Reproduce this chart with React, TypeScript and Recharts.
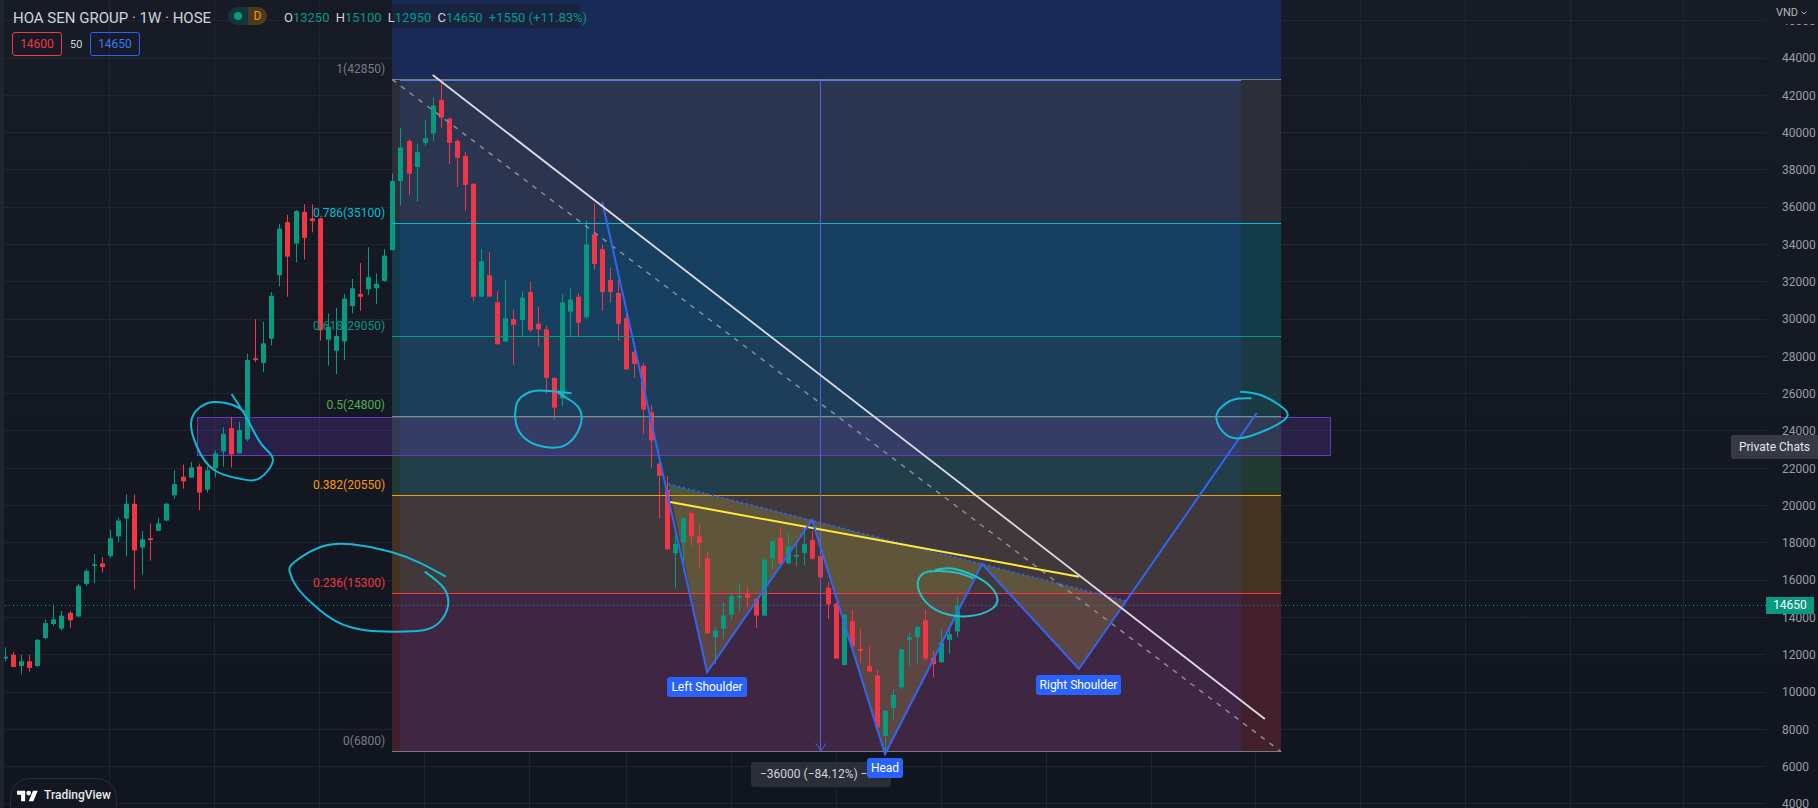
import { Area, Bar, CartesianGrid, ComposedChart, Line, ReferenceArea, ReferenceDot, ReferenceLine, XAxis, YAxis } from 'recharts';

const W = 1818;
const H = 808;
const FONT = 'Roboto, "Liberation Sans", sans-serif';

const GREEN = '#089981';
const RED = '#f23645';
const BLUE = '#2962ff';
const CYAN = '#14b8d4';

// weekly candles, oldest first
const opens = [
  11800, 12000, 11400, 11650, 11400, 12900, 13650, 13400, 14250, 14050,
  15800, 16800, 16900, 17300, 18350, 19300, 20100, 17750, 18250, 18650,
  19200, 20550, 21550, 21500, 22100, 20850, 22000, 22900, 24150, 22800,
  23550, 27900, 27650, 28950, 32350, 35200, 34050, 35750, 35400, 35400,
  28900, 28300, 28800, 30700, 31350, 31600, 31650, 32050, 33700, 37400,
  39550, 38150, 39450, 39950, 41750, 40750, 39550, 38750, 37250, 31200,
  32350, 30900, 28800, 30000, 29950, 31450, 29750, 29450, 26850, 25750,
  30400, 31200, 30100, 34550, 33750, 32100, 31400, 30050, 28250, 27500,
  25000, 22250, 20850, 17450, 18050, 19600, 18350, 17200, 12950, 13400,
  14150, 15050, 15300, 15000, 14100, 17150, 18250, 16900, 17300, 17450,
  18150, 17300, 15600, 14750, 11450, 13800, 12300, 11400, 10900, 7650,
  9150, 10250, 12800, 12950, 13850, 11850, 11600, 12800, 13250,
];
const closes = [
  11900, 11350, 11650, 11300, 12800, 13700, 13900, 14100, 13850, 15700,
  16500, 16850, 16700, 18250, 19200, 20100, 17600, 18200, 18150, 19050,
  20100, 21150, 21300, 22050, 20700, 21900, 22800, 23850, 22750, 24050,
  27800, 27800, 28700, 31250, 34850, 33350, 35800, 34350, 35250, 29400,
  29600, 29100, 31100, 31650, 31200, 32250, 31900, 33400, 37400, 39200,
  37800, 38950, 39700, 41450, 40800, 39450, 38650, 37200, 31200, 33100,
  31200, 28650, 30050, 29700, 31150, 29400, 29450, 26850, 25250, 30900,
  31050, 29800, 34000, 32950, 31450, 31450, 29750, 27300, 27600, 25150,
  23500, 21600, 17650, 17950, 19350, 18350, 18000, 13150, 13300, 14100,
  15150, 15150, 15050, 14100, 17100, 18100, 16900, 17800, 17350, 17950,
  17150, 16150, 14700, 11800, 14150, 12450, 12200, 11100, 8100, 9000,
  9850, 12300, 12950, 13500, 11800, 11500, 12650, 13100, 14650,
];
const highs = [
  12400, 12150, 12000, 12000, 12850, 13900, 14700, 14350, 14350, 15800,
  16600, 17400, 17250, 18700, 19350, 20600, 20600, 18650, 19050, 19350,
  20150, 21900, 22200, 22350, 22250, 22100, 22950, 24200, 24750, 24500,
  28150, 30000, 29850, 31450, 35100, 35600, 35850, 36150, 36150, 35450,
  30300, 30600, 31350, 32150, 33000, 33850, 32450, 33750, 37800, 40250,
  39650, 39400, 40700, 41900, 42850, 40800, 39650, 38950, 37300, 33750,
  33600, 31500, 32100, 30500, 31500, 32000, 30650, 29650, 26850, 31350,
  31650, 31400, 35300, 36200, 34000, 32750, 32100, 30600, 28700, 27650,
  25400, 22700, 21600, 18500, 19350, 19700, 19000, 17500, 13500, 14800,
  15300, 15800, 15650, 15050, 17250, 18100, 18850, 18500, 17950, 18900,
  18650, 17300, 15900, 14800, 14200, 14400, 13400, 12450, 11200, 9000,
  10150, 12300, 13200, 13500, 14400, 12200, 13400, 13600, 15100,
];
const lows = [
  11650, 11350, 10950, 11100, 11350, 12850, 13550, 13300, 13450, 14050,
  15700, 15850, 16400, 17200, 18050, 17300, 15500, 16300, 17050, 18650,
  19150, 20350, 20900, 21500, 19750, 20700, 21500, 22100, 22050, 22800,
  23450, 27700, 27150, 28600, 31750, 31200, 33050, 33200, 34650, 28850,
  27500, 27050, 27800, 30300, 30450, 31300, 30800, 32000, 33700, 36100,
  36650, 36300, 39300, 39550, 40250, 38300, 37100, 35800, 30950, 31200,
  31200, 28650, 28750, 27550, 29100, 29300, 28550, 26000, 24600, 25350,
  29100, 29000, 30000, 32650, 30450, 30900, 28850, 27300, 26850, 23850,
  22000, 19300, 17650, 15550, 16450, 17850, 16650, 13150, 11500, 12850,
  13900, 14350, 14500, 13450, 14100, 16600, 16850, 16850, 16750, 16800,
  17100, 15350, 13900, 11800, 11450, 12450, 11600, 11100, 8100, 6800,
  8450, 10150, 11400, 11500, 11700, 10800, 11600, 12050, 12950,
];

const candles = opens.map((o, i) => ({ i, o, c: closes[i], h: highs[i], l: lows[i] }));

const priceTicks = [4000, 6000, 8000, 10000, 12000, 14000, 16000, 18000, 20000, 22000, 24000, 26000, 28000, 30000, 32000, 34000, 36000, 38000, 40000, 42000, 44000, 46000];
const timeTicks = [13, 26, 39, 52, 65, 77, 90, 103, 116, 129, 142, 155, 168, 181, 194, 208];

const PRICE_MIN = 3785;
const PRICE_MAX = 47110;
const INDEX_MIN = -0.62;
const INDEX_MAX = 218.2;

// fib retracement levels
const fibLevels = [
  { name: '1', price: 42850, color: '#787b86' },
  { name: '0.786', price: 35100, color: '#00bcd4' },
  { name: '0.618', price: 29050, color: '#089981' },
  { name: '0.5', price: 24800, color: '#4caf50' },
  { name: '0.382', price: 20550, color: '#ff9800' },
  { name: '0.236', price: 15300, color: '#f23645' },
  { name: '0', price: 6800, color: '#787b86' },
];
const fibFills = ['#2c2f38', '#143b4a', '#1b3a44', '#213a32', '#443320', '#421f2a'];
const FIB_START = 47.96;
const FIB_END = 158.12;
const RANGE_START = 48.95;
const RANGE_END = 153.16;

// drawings, as (bar index, price) points
const zigzag = [
  { i: 74.0, p: 36295 }, { i: 87.0, p: 11061 }, { i: 100.0, p: 19228 }, { i: 109.05, p: 6680 },
  { i: 121.07, p: 16868 }, { i: 133.06, p: 11238 }, { i: 155.1, p: 24965 },
];
const patternShade = [
  { i: 82.2, low: 21157, high: 21157 }, { i: 87.0, low: 11061, high: 20627 },
  { i: 100.0, low: 19190, high: 19228 }, { i: 109.05, low: 6680, high: 18190 },
  { i: 121.07, low: 16860, high: 16868 }, { i: 133.06, low: 11238, high: 15530 },
  { i: 138.8, low: 14900, high: 14900 },
];
const patternTop = [{ i: 82.2, p: 21157 }, { i: 138.8, p: 14900 }];
const neckline = [{ i: 82.4, p: 20193 }, { i: 133.1, p: 16187 }];
const whiteTrend = [{ i: 53.0, p: 43088 }, { i: 156.1, p: 8557 }];
const fibTrend = [{ i: 47.96, p: 42850 }, { i: 158.12, p: 6800 }];
const rangeStem = [{ i: 101.1, p: 42850 }, { i: 101.1, p: 6800 }];
const rangeArrow = [{ i: 100.45, p: 7250 }, { i: 101.1, p: 6850 }, { i: 101.75, p: 7250 }];
const rangeTop = [{ i: 48.95, p: 42800 }, { i: 153.16, p: 42800 }];

const circleBreakout = [
  { i: 28.07, p: 25984 }, { i: 30.1, p: 24589 }, { i: 31.85, p: 23249 }, { i: 33.2, p: 22445 }, { i: 31.6, p: 21480 },
  { i: 29.25, p: 21426 }, { i: 25.9, p: 21909 }, { i: 23.8, p: 23142 }, { i: 23.05, p: 24429 }, { i: 24.04, p: 25233 },
  { i: 25.9, p: 25555 }, { i: 28.25, p: 25394 }, { i: 29.7, p: 25019 },
];
const circleRetest = [
  { i: 70.2, p: 26021 }, { i: 67.5, p: 26145 }, { i: 65.5, p: 26145 }, { i: 64.0, p: 25839 }, { i: 63.3, p: 25303 },
  { i: 63.3, p: 24429 }, { i: 64.2, p: 23694 }, { i: 65.9, p: 23249 }, { i: 67.9, p: 23104 }, { i: 69.8, p: 23340 },
  { i: 71.25, p: 24230 }, { i: 71.25, p: 25126 }, { i: 70.0, p: 25662 }, { i: 68.4, p: 26090 },
];
const circleFib = [
  { i: 54.62, p: 16187 }, { i: 51.55, p: 16906 }, { i: 47.76, p: 17528 }, { i: 43.0, p: 17924 }, { i: 39.2, p: 17796 },
  { i: 35.9, p: 16992 }, { i: 35.28, p: 16456 }, { i: 36.13, p: 15651 }, { i: 38.27, p: 14670 }, { i: 41.1, p: 13775 },
  { i: 44.4, p: 13330 }, { i: 48.2, p: 13239 }, { i: 52.0, p: 13330 }, { i: 53.9, p: 13775 }, { i: 54.87, p: 14579 },
  { i: 54.4, p: 15565 }, { i: 52.0, p: 16456 },
];
const circleLast = [
  { i: 115.24, p: 16547 }, { i: 117.1, p: 16638 }, { i: 119.37, p: 16370 }, { i: 121.65, p: 15834 }, { i: 122.96, p: 15030 },
  { i: 122.06, p: 14402 }, { i: 119.58, p: 14080 }, { i: 117.1, p: 14134 }, { i: 115.03, p: 14493 }, { i: 113.6, p: 15115 },
  { i: 113.1, p: 15834 }, { i: 113.8, p: 16370 }, { i: 115.45, p: 16494 }, { i: 117.93, p: 16402 }, { i: 119.99, p: 16102 },
];
const circleTarget = [
  { i: 153.04, p: 26107 }, { i: 155.6, p: 25930 }, { i: 157.87, p: 25394 }, { i: 158.86, p: 24767 }, { i: 156.26, p: 24053 },
  { i: 153.04, p: 23608 }, { i: 151.1, p: 23876 }, { i: 150.1, p: 24681 }, { i: 150.77, p: 25303 }, { i: 152.4, p: 25700 },
  { i: 154.45, p: 25753 },
];

const Candle = (props: any) => {
  const { x, y, width, height, payload } = props;
  const { o, c, h, l } = payload;
  const perUnit = height / (h - l || 1);
  const cx = Math.round(x + width / 2);
  const color = c >= o ? GREEN : RED;
  const bodyTop = y + (h - Math.max(o, c)) * perUnit;
  const bodyH = Math.max(Math.abs(o - c) * perUnit, 1.5);
  return (
    <g>
      <rect x={cx} y={y} width={1} height={height} fill={color} />
      <rect x={cx - 2} y={bodyTop} width={5} height={bodyH} fill={color} />
    </g>
  );
};

const drawn = (key: string, data: any[], stroke: string, width: number, extra: any = {}) => (
  <Line
    key={key}
    data={data}
    dataKey="p"
    stroke={stroke}
    strokeWidth={width}
    dot={false}
    activeDot={false}
    legendType="none"
    isAnimationActive={false}
    {...extra}
  />
);

const text = (left: number, top: number, s: string, color: string, size = 12, extra: any = {}) => (
  <div style={{ position: 'absolute', left, top, color, fontSize: size, lineHeight: `${size + 2}px`, whiteSpace: 'nowrap', ...extra }}>{s}</div>
);

const tag = (left: number, top: number, w: number, h: number, s: string) => (
  <div style={{ position: 'absolute', left, top, width: w, height: h, background: BLUE, color: '#fff', borderRadius: 3, fontSize: 12, lineHeight: `${h}px`, textAlign: 'center', whiteSpace: 'nowrap' }}>{s}</div>
);

export default function App() {
  return (
    <div style={{ position: 'absolute', left: 0, top: 0, width: W, height: H, overflow: 'hidden', background: 'linear-gradient(#171b26, #11151f)', fontFamily: FONT }}>
      <ComposedChart width={W} height={H} data={candles} margin={{ top: 0, right: 0, bottom: 0, left: 0 }}>
        <XAxis dataKey="i" type="number" domain={[INDEX_MIN, INDEX_MAX]} ticks={timeTicks} allowDataOverflow hide />
        <YAxis
          orientation="right"
          width={52}
          domain={[PRICE_MIN, PRICE_MAX]}
          ticks={priceTicks}
          interval={0}
          allowDataOverflow
          axisLine={false}
          tickLine={false}
          tickMargin={10}
          tick={{ fill: '#9a9da6', fontSize: 12, fontFamily: FONT }}
        />

        <ReferenceArea x1={FIB_START} x2={FIB_END} y1={42850} y2={PRICE_MAX} fill="#1a2a56" fillOpacity={1} stroke="none" />
        {fibFills.map((fill, k) => (
          <ReferenceArea key={fill} x1={FIB_START} x2={FIB_END} y1={fibLevels[k + 1].price} y2={fibLevels[k].price} fill={fill} fillOpacity={1} stroke="none" />
        ))}
        <ReferenceArea x1={RANGE_START} x2={RANGE_END} y1={6800} y2={42850} fill="#2962ff" fillOpacity={0.12} stroke="none" />

        <CartesianGrid stroke="#262a36" strokeOpacity={0.75} shapeRendering="crispEdges" horizontalValues={priceTicks} verticalValues={timeTicks} />

        <Area
          data={patternShade}
          dataKey={(d: any) => [d.low, d.high]}
          type="linear"
          fill="#ffeb3b"
          fillOpacity={0.16}
          stroke="none"
          dot={false}
          activeDot={false}
          isAnimationActive={false}
        />

        <ReferenceLine y={14650} stroke={GREEN} strokeDasharray="1 3" shapeRendering="crispEdges" />

        {fibLevels.map((lv) => (
          <ReferenceLine
            key={lv.name}
            segment={[{ x: FIB_START, y: lv.price }, { x: FIB_END, y: lv.price }]}
            stroke={lv.color}
            strokeWidth={1}
            shapeRendering="crispEdges"
          />
        ))}
        {fibLevels.map((lv) => (
          <ReferenceDot
            key={`label-${lv.name}`}
            x={FIB_START}
            y={lv.price}
            r={0}
            stroke="none"
            label={{ value: `${lv.name}(${lv.price})`, position: 'left', dx: -2, dy: -11, fill: lv.color, fontSize: 12, fontFamily: FONT }}
          />
        ))}

        <Bar dataKey={(d: any) => [d.l, d.h]} barSize={6} shape={Candle} isAnimationActive={false} legendType="none" />

        <ReferenceArea x1={23.9} x2={164.2} y1={22660} y2={24700} fill="#673ab7" fillOpacity={0.26} stroke="#673ab7" strokeWidth={1} shapeRendering="crispEdges" />

        {drawn('range-top', rangeTop, '#5b78e6', 1, { shapeRendering: 'crispEdges' })}
        {drawn('range-stem', rangeStem, '#5264d8', 1, { shapeRendering: 'crispEdges' })}
        {drawn('range-arrow', rangeArrow, '#5264d8', 1)}
        {drawn('fib-trend', fibTrend, '#8a8d98', 1.5, { strokeDasharray: '5 6' })}
        {drawn('pattern-top', patternTop, BLUE, 2, { strokeDasharray: '2 3' })}
        {drawn('neckline', neckline, '#ffeb3b', 2)}
        {drawn('zigzag', zigzag, '#3366f0', 2)}
        {drawn('white-trend', whiteTrend, '#dedde6', 1.8)}
        {drawn('circle-breakout', circleBreakout, CYAN, 2, { type: 'natural' })}
        {drawn('circle-retest', circleRetest, CYAN, 2, { type: 'natural' })}
        {drawn('circle-fib', circleFib, CYAN, 2, { type: 'natural' })}
        {drawn('circle-last', circleLast, '#22c1c3', 2, { type: 'natural' })}
        {drawn('circle-target', circleTarget, CYAN, 2, { type: 'natural' })}
      </ComposedChart>

      {/* left edge of the pane */}
      <div style={{ position: 'absolute', left: 0, top: 0, width: 4, height: H, background: '#20242e' }} />

      {/* header */}
      {text(13, 10, 'HOA SEN GROUP · 1W · HOSE', '#d1d4dc', 15)}
      <div style={{ position: 'absolute', left: 228, top: 7, width: 39, height: 18, borderRadius: 9, overflow: 'hidden', display: 'flex' }}>
        <div style={{ width: 20, background: '#12353a', position: 'relative' }}>
          <div style={{ position: 'absolute', left: 6, top: 5, width: 8, height: 8, borderRadius: 4, background: GREEN }} />
        </div>
        <div style={{ width: 19, background: '#4a3a1f', color: '#ff9800', fontSize: 12, lineHeight: '18px', textAlign: 'center' }}>D</div>
      </div>
      <div style={{ position: 'absolute', left: 280, top: 4, width: 300, height: 24, background: 'rgba(22,26,40,0.45)', borderRadius: 2 }} />
      <div style={{ position: 'absolute', left: 284, top: 10, fontSize: 13, lineHeight: '15px', whiteSpace: 'nowrap', color: GREEN }}>
        <span style={{ color: '#d1d4dc' }}>O</span>13250 <span style={{ color: '#d1d4dc', marginLeft: 3 }}>H</span>15100 <span style={{ color: '#d1d4dc', marginLeft: 3 }}>L</span>12950 <span style={{ color: '#d1d4dc', marginLeft: 3 }}>C</span>14650 <span style={{ marginLeft: 3 }}>+1550 (+11.83%)</span>
      </div>

      {/* quick trade box */}
      <div style={{ position: 'absolute', left: 12, top: 32, width: 48, height: 22, border: `1px solid ${RED}`, borderRadius: 3, color: RED, fontSize: 12, lineHeight: '22px', textAlign: 'center' }}>14600</div>
      {text(70, 38, '50', '#d1d4dc', 11)}
      <div style={{ position: 'absolute', left: 90, top: 32, width: 48, height: 22, border: `1px solid ${BLUE}`, borderRadius: 3, color: '#3b78ff', fontSize: 12, lineHeight: '22px', textAlign: 'center' }}>14650</div>

      {/* price scale extras */}
      <div style={{ position: 'absolute', left: 1770, top: 0, width: 48, height: 24, background: '#171b26' }} />
      {text(1776, 6, 'VND', '#b2b5be', 11)}
      <svg style={{ position: 'absolute', left: 1801, top: 11 }} width={6} height={4}><path d="M0.5 0.5 L3 3 L5.5 0.5" fill="none" stroke="#b2b5be" /></svg>
      <div style={{ position: 'absolute', left: 1766, top: 597, width: 48, height: 17, background: GREEN, color: '#fff', fontSize: 12, lineHeight: '17px', textAlign: 'center' }}>14650</div>
      <div style={{ position: 'absolute', left: 1731, top: 435, width: 87, height: 24, background: '#363a45', color: '#e6e7ea', fontSize: 12, lineHeight: '24px', textAlign: 'center', borderRadius: '2px 0 0 2px' }}>Private Chats</div>

      {/* measure tooltip and pattern labels */}
      <div style={{ position: 'absolute', left: 751, top: 762, width: 140, height: 25, background: '#2a2e39', color: '#d1d4dc', borderRadius: 3, fontSize: 12, lineHeight: '25px', paddingLeft: 9, boxSizing: 'border-box', whiteSpace: 'nowrap', overflow: 'hidden' }}>−36000 (−84.12%) −7</div>
      {tag(667, 677, 80, 20, 'Left Shoulder')}
      {tag(867, 758, 36, 20, 'Head')}
      {tag(1036, 675, 85, 20, 'Right Shoulder')}

      {/* logo */}
      <div style={{ position: 'absolute', left: 10, top: 778, width: 105, height: 44, borderRadius: 20, border: '1px solid #2a2e39', background: '#131722' }} />
      <svg style={{ position: 'absolute', left: 17, top: 790 }} width={21} height={12} viewBox="0 4 36 18">
        <path d="M14 22H7V11H0V4h14v18zM28 22h-8l7.5-18h8L28 22z" fill="#fff" />
        <circle cx={20} cy={8} r={4} fill="#fff" />
      </svg>
      {text(44, 788, 'TradingView', '#e6e7ea', 12, { fontWeight: 500 })}
    </div>
  );
}
